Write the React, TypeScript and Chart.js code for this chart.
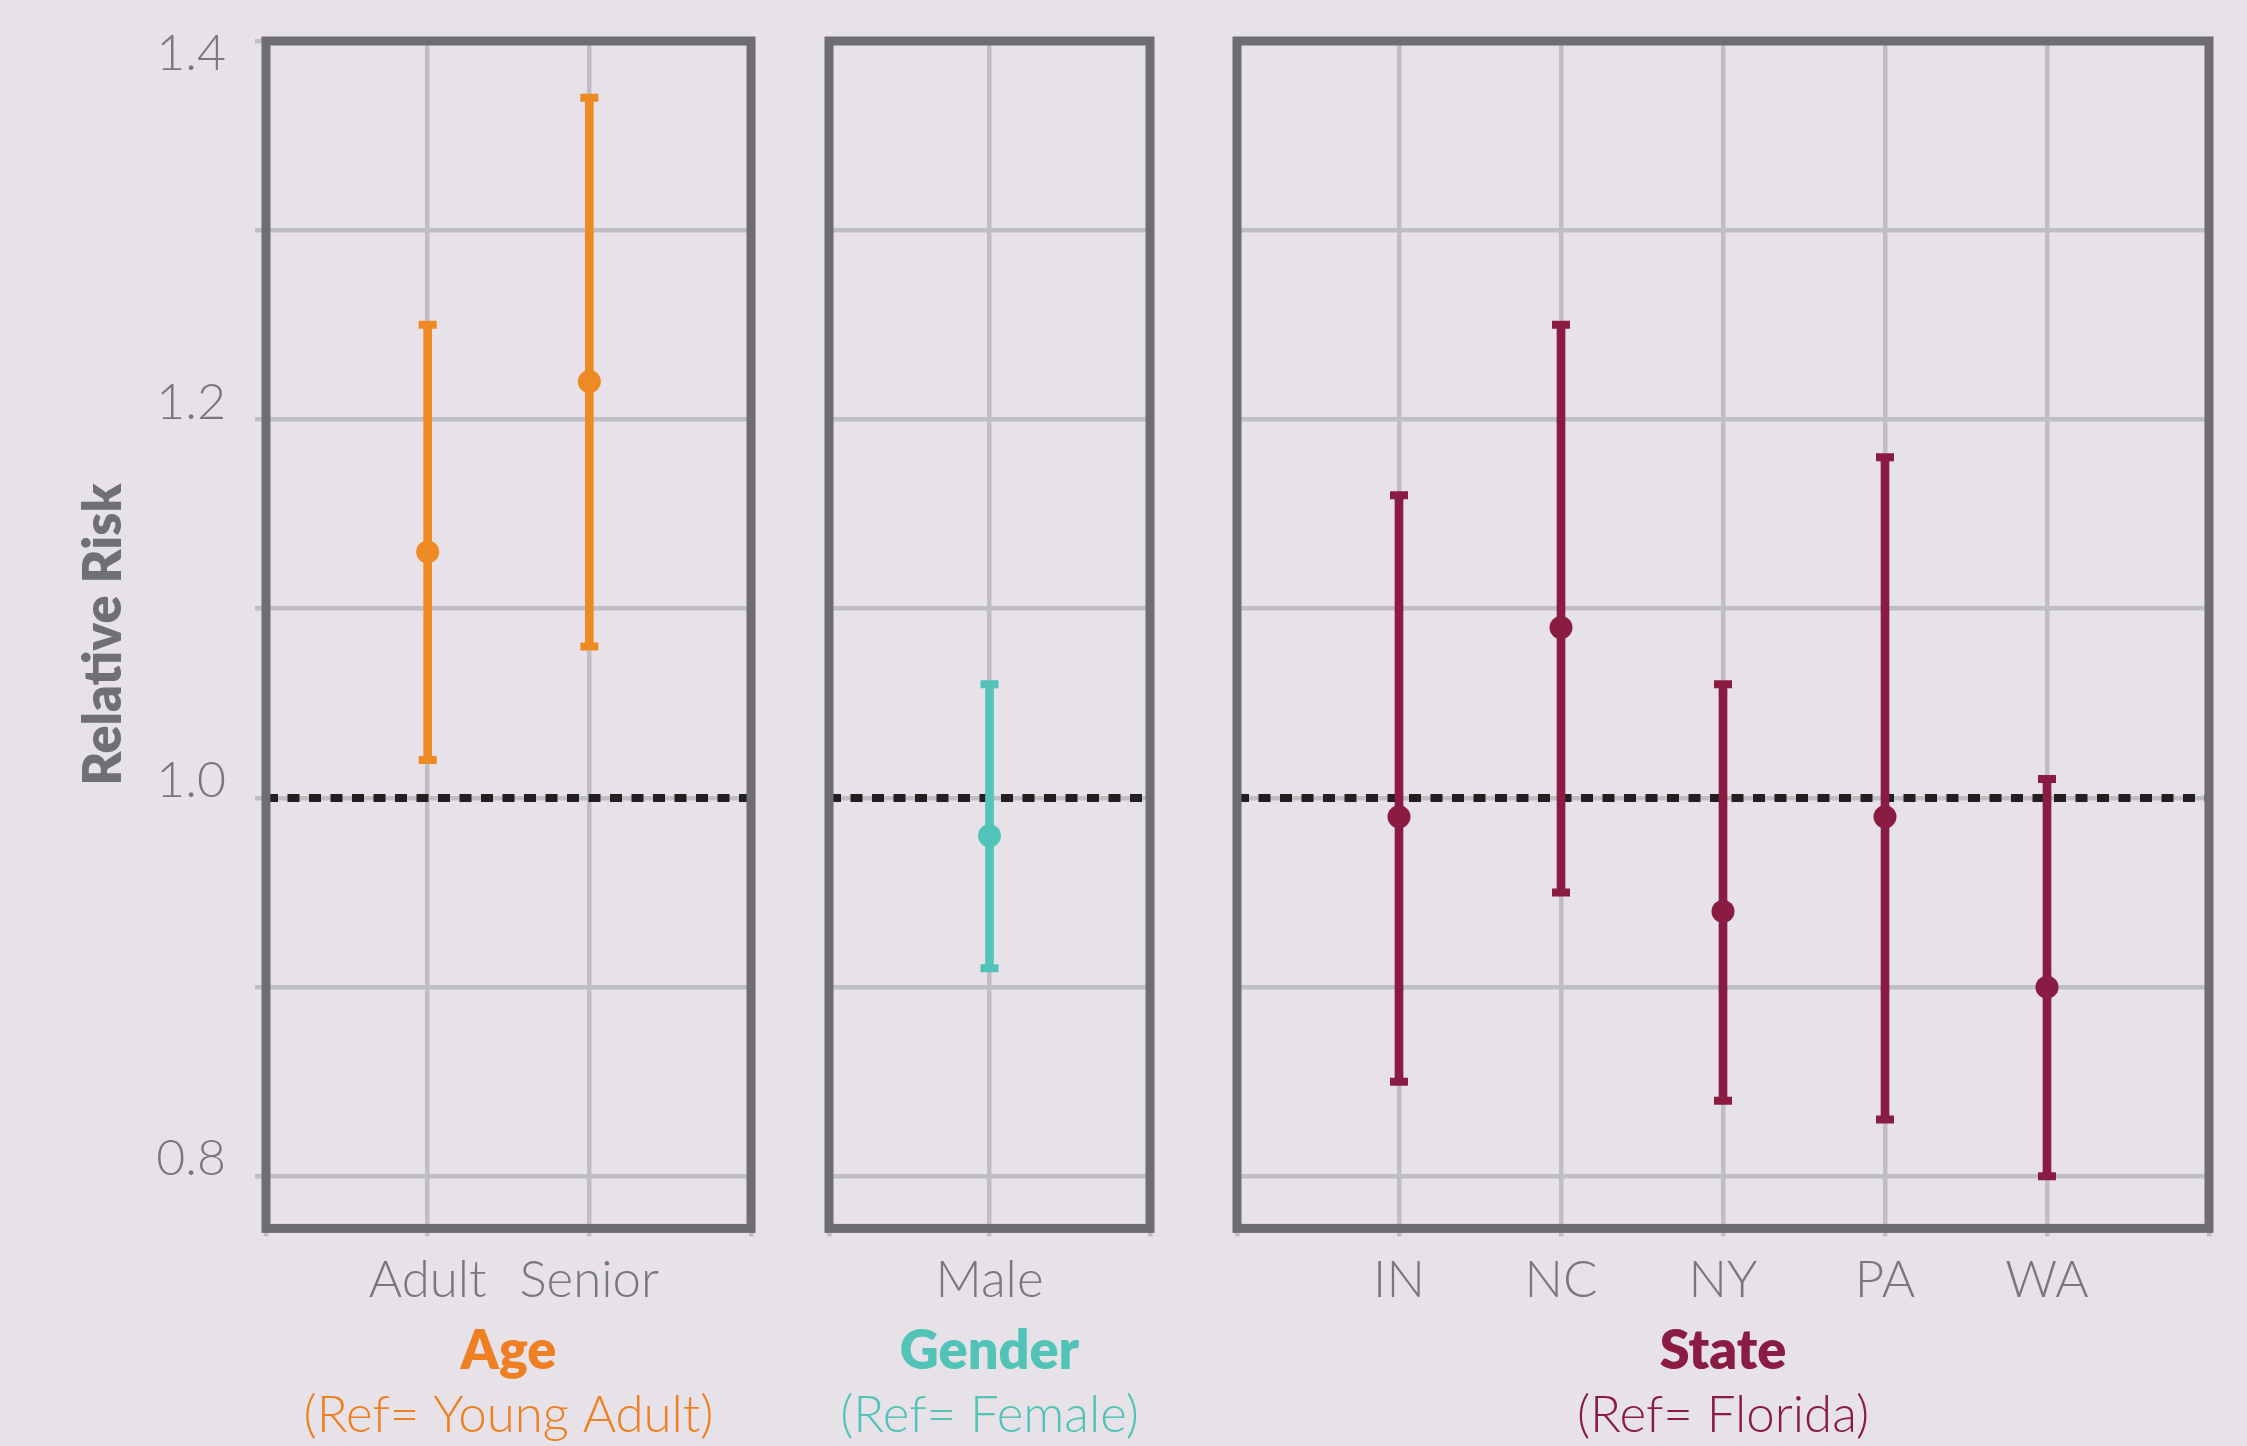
import React, { useEffect, useRef } from 'react';
import { Chart, registerables } from 'chart.js';

Chart.register(...registerables);

// ---------- data ----------
const AGE_LABELS = ['Adult', 'Senior'];
const AGE_RR = [1.13, 1.22];
const AGE_LOW = [1.02, 1.08];
const AGE_HIGH = [1.25, 1.37];

const GENDER_LABELS = ['Male'];
const GENDER_RR = [0.98];
const GENDER_LOW = [0.91];
const GENDER_HIGH = [1.06];

const STATE_LABELS = ['IN', 'NC', 'NY', 'PA', 'WA'];
const STATE_RR = [0.99, 1.09, 0.94, 0.99, 0.9];
const STATE_LOW = [0.85, 0.95, 0.84, 0.83, 0.8];
const STATE_HIGH = [1.16, 1.25, 1.06, 1.18, 1.01];

const Y_TICKS = [0.8, 0.9, 1.0, 1.1, 1.2, 1.3, 1.4];
const Y_LABELED = [0.8, 1.0, 1.2, 1.4];
const REF_VALUE = 1.0;
const Y_MIN = 0.7725;
const Y_MAX = 1.4;

// ---------- styles ----------
const FONT = 'Lato, "Noto Sans", sans-serif';
const BG = '#e6e2e8';
const GRID = '#bfbec4';
const FRAME = '#6d6d72';
const TICK = '#78787c';
const AXIS_TITLE = '#6f7073';
const DASH = '#231f20';
const ORANGE = '#ee8a24';
const ORANGE_TEXT = '#ee7f22';
const TEAL = '#52c4b7';
const MAROON = '#8a1b42';

const CANVAS_H = 1446;

type Panel = {
  labels: string[];
  rr: number[];
  low: number[];
  high: number[];
  color: string;
  textColor: string;
  heading: string;
  reference: string;
  left: number;
  width: number;
  padLeft: number;
  padRight: number;
  showY: boolean;
};

const PANELS: Panel[] = [
  {
    labels: AGE_LABELS, rr: AGE_RR, low: AGE_LOW, high: AGE_HIGH,
    color: ORANGE, textColor: ORANGE_TEXT, heading: 'Age', reference: '(Ref= Young Adult)',
    left: 0, width: 790, padLeft: 0, padRight: 39, showY: true,
  },
  {
    labels: GENDER_LABELS, rr: GENDER_RR, low: GENDER_LOW, high: GENDER_HIGH,
    color: TEAL, textColor: TEAL, heading: 'Gender', reference: '(Ref= Female)',
    left: 790, width: 400, padLeft: 39, padRight: 40, showY: false,
  },
  {
    labels: STATE_LABELS, rr: STATE_RR, low: STATE_LOW, high: STATE_HIGH,
    color: MAROON, textColor: MAROON, heading: 'State', reference: '(Ref= Florida)',
    left: 1190, width: 1057, padLeft: 47, padRight: 38, showY: false,
  },
];

const framePlugin = {
  id: 'panelFrame',
  afterDraw(chart: any) {
    const { ctx, chartArea: a } = chart;
    ctx.save();
    ctx.strokeStyle = FRAME;
    ctx.lineWidth = 9;
    ctx.strokeRect(a.left, a.top, a.right - a.left, a.bottom - a.top);
    ctx.restore();
  },
};

function yLabel(v: number): string | string[] {
  if (!Y_LABELED.some((t) => Math.abs(t - v) < 1e-6)) return '';
  const text = Number(v).toFixed(1);
  // the top label sits just inside the panel, below its gridline
  return Math.abs(v - Y_MAX) < 1e-6 ? ['', text] : text;
}

function makeChart(canvas: HTMLCanvasElement, p: Panel) {
  const n = p.labels.length;
  const xs = p.labels.map((_, i) => i + 1);
  return new Chart(canvas, {
    type: 'bar',
    data: {
      datasets: [
        {
          type: 'scatter',
          label: 'Relative risk',
          data: xs.map((x, i) => ({ x, y: p.rr[i] })),
          pointRadius: 11.5,
          pointHoverRadius: 11.5,
          pointBackgroundColor: p.color,
          pointBorderWidth: 0,
          backgroundColor: p.color,
          borderColor: p.color,
          order: 0,
        } as any,
        {
          type: 'scatter',
          label: 'CI bounds',
          data: [
            ...xs.map((x, i) => ({ x, y: p.low[i] })),
            ...xs.map((x, i) => ({ x, y: p.high[i] })),
          ],
          pointStyle: 'line',
          pointRadius: 9,
          pointHoverRadius: 9,
          pointBorderWidth: 8,
          pointBorderColor: p.color,
          borderColor: p.color,
          backgroundColor: p.color,
          order: 1,
        } as any,
        {
          type: 'bar',
          label: '95% CI',
          data: xs.map((x, i) => ({ x, y: [p.low[i], p.high[i]] })),
          backgroundColor: p.color,
          barThickness: 8,
          borderWidth: 0,
          order: 2,
        } as any,
        {
          type: 'line',
          label: 'Reference',
          data: [{ x: 0, y: REF_VALUE }, { x: n + 1, y: REF_VALUE }],
          borderColor: DASH,
          borderWidth: 8,
          borderDash: [12, 9.5],
          borderCapStyle: 'butt',
          pointRadius: 0,
          order: 3,
        } as any,
      ],
    },
    options: {
      responsive: false,
      animation: false,
      events: [],
      layout: { padding: { top: 41, bottom: 0, left: p.padLeft, right: p.padRight } },
      plugins: {
        legend: { display: false },
        tooltip: { enabled: false },
        title: {
          display: true,
          text: p.heading,
          position: 'bottom',
          fullSize: false,
          weight: 1000,
          color: p.textColor,
          font: { family: FONT, size: 54, weight: '800', lineHeight: 1.2 },
          padding: { top: 10.6, bottom: 0 },
        } as any,
        subtitle: {
          display: true,
          text: p.reference,
          position: 'bottom',
          fullSize: false,
          weight: 1500,
          color: p.textColor,
          font: { family: FONT, size: 51, weight: '300', lineHeight: 1.2 },
          padding: { top: 1, bottom: 0 },
        } as any,
      },
      scales: {
        x: {
          type: 'linear',
          min: 0,
          max: n + 1,
          offset: false,
          afterBuildTicks: (s: any) => {
            s.ticks = Array.from({ length: n + 2 }, (_, i) => ({ value: i }));
          },
          afterFit: (s: any) => {
            s.height = 80;
          },
          ticks: {
            autoSkip: false,
            maxRotation: 0,
            minRotation: 0,
            padding: 14,
            color: TICK,
            font: { family: FONT, size: 51, weight: '300' },
            callback: (v: any) => p.labels[Math.round(v) - 1] ?? '',
          },
          grid: { color: GRID, lineWidth: 4.5, tickLength: 8, offset: false },
          border: { display: false },
        },
        y: {
          type: 'linear',
          min: Y_MIN,
          max: Y_MAX,
          afterBuildTicks: (s: any) => {
            s.ticks = Y_TICKS.map((v) => ({ value: v }));
          },
          afterFit: (s: any) => {
            s.width = p.showY ? 266 : 0;
            s.paddingTop = 0;
            s.paddingBottom = 0;
          },
          ticks: {
            display: p.showY,
            padding: 29,
            labelOffset: -17,
            color: TICK,
            font: { family: FONT, size: 50, weight: '300', lineHeight: 1.2 },
            callback: (v: any) => yLabel(Number(v)),
          },
          grid: { color: GRID, lineWidth: 4.5, tickLength: 11, drawTicks: p.showY },
          border: { display: false },
          title: {
            display: p.showY,
            text: 'Relative Risk',
            color: AXIS_TITLE,
            font: { family: FONT, size: 52, weight: '800', lineHeight: 1.2 },
            padding: { top: 73, bottom: 0 },
          },
        },
      },
    } as any,
    plugins: [framePlugin],
  });
}

export default function App() {
  const refs = useRef<(HTMLCanvasElement | null)[]>([]);

  useEffect(() => {
    const charts = PANELS.map((p, i) => makeChart(refs.current[i] as HTMLCanvasElement, p));
    return () => charts.forEach((c) => c.destroy());
  }, []);

  return (
    <div
      style={{
        position: 'fixed',
        left: 0,
        top: 0,
        width: 2247,
        height: 1446,
        background: BG,
        overflow: 'hidden',
      }}
    >
      {PANELS.map((p, i) => (
        <canvas
          key={i}
          ref={(el) => {
            refs.current[i] = el;
          }}
          width={p.width}
          height={CANVAS_H}
          style={{ position: 'absolute', left: p.left, top: 0 }}
        />
      ))}
    </div>
  );
}
